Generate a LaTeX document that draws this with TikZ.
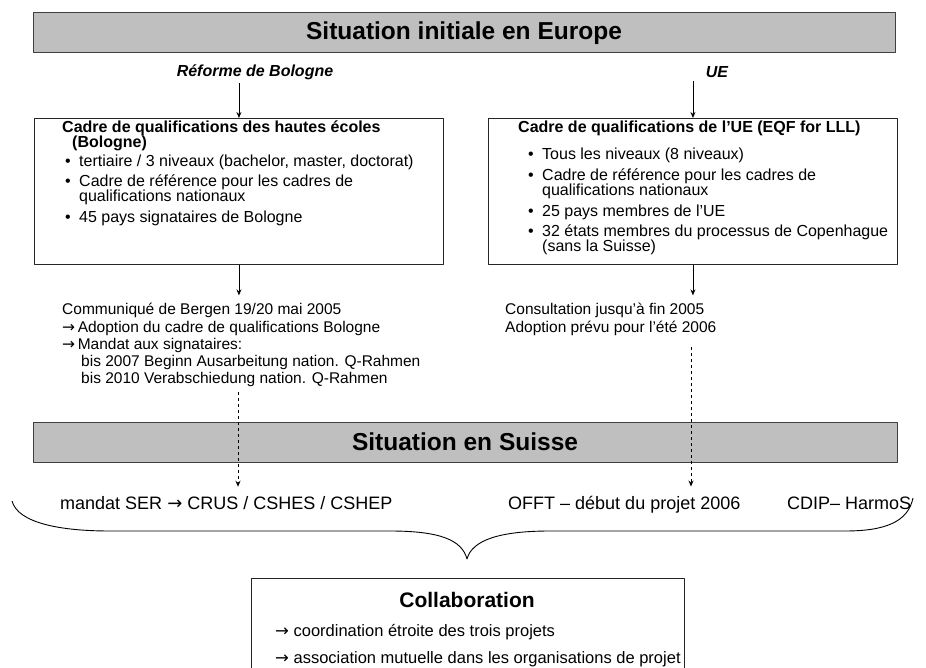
\documentclass[tikz,border=0pt]{standalone}
\usepackage{fontspec}
\setmainfont{Liberation Sans}
\newfontfamily\symfont{DejaVu Sans}
\newcommand{\rarr}{{\symfont →}}
\usetikzlibrary{arrows.meta}
\tikzset{
  banner/.style={draw=black!75, line width=1pt, fill=black!25, minimum height=40pt, font=\fontsize{24.5}{28}\selectfont\bfseries},
  frame/.style={draw=black!85, line width=0.9pt, minimum width=409pt, minimum height=146pt, anchor=north west},
  head/.style={font=\fontsize{16}{19}\selectfont\bfseries\itshape},
  txt/.style={anchor=base west, inner sep=0pt, font=\fontsize{16}{19}\selectfont},
  note/.style={anchor=base west, inner sep=0pt, font=\fontsize{15.5}{18}\selectfont},
  big/.style={anchor=base west, inner sep=0pt, font=\fontsize{18}{21}\selectfont},
  link/.style={->, line width=0.9pt}
}
\begin{document}
\begin{tikzpicture}[x=1pt,y=-1pt,>={Stealth[length=6pt,width=5pt]},line join=round]
\useasboundingbox (0,0) rectangle (926,668);
% Europe
\node[banner, minimum width=862pt] (europe) at (464,33) {Situation initiale en Europe};
\node[head] (bologne) at (255,72) {Réforme de Bologne};
\node[head] (ue) at (717,72) {UE};
\node[frame] (bolbox) at (34,118) {};
\node[frame] (uebox) at (488,118) {};
\draw[link] (bolbox.north |- bologne.south) -- (bolbox.north);
\draw[link] (uebox.north |- ue.south) -- (uebox.north);

% box Bologne
\node[txt] (b0) at (62,133) {\bfseries Cadre de qualifications des hautes écoles};
\node[txt] (b1) at (72,148) {\bfseries (Bologne)};
\node[txt] at (65,167) {•};
\node[txt] (b2) at (79,167) {tertiaire / 3 niveaux (bachelor, master, doctorat)};
\node[txt] at (65,187) {•};
\node[txt] (b3) at (79,187) {Cadre de référence pour les cadres de};
\node[txt] (b4) at (79,202) {qualifications nationaux};
\node[txt] at (65,223) {•};
\node[txt] (b5) at (79,223) {45 pays signataires de Bologne};

% box UE
\node[txt] (u0) at (518,133) {\bfseries Cadre de qualifications de l’UE (EQF for LLL)};
\node[txt] at (528,160) {•};
\node[txt] (u1) at (542,160) {Tous les niveaux (8 niveaux)};
\node[txt] at (528,181) {•};
\node[txt] (u2) at (542,181) {Cadre de référence pour les cadres de};
\node[txt] (u3) at (542,196) {qualifications nationaux};
\node[txt] at (528,217) {•};
\node[txt] (u4) at (542,217) {25 pays membres de l’UE};
\node[txt] at (528,237) {•};
\node[txt] (u5) at (542,237) {32 états membres du processus de Copenhague};
\node[txt] (u6) at (542,252) {(sans la Suisse)};

% decisions
\node[note] (c1) at (62,315) {Communiqué de Bergen 19/20 mai 2005};
\node[note] (c2) at (62,332) {\rarr\,Adoption du cadre de qualifications Bologne};
\node[note] (c3) at (62,349) {\rarr\,Mandat aux signataires:};
\node[note] (c4) at (81,366) {bis 2007 Beginn Ausarbeitung nation. Q-Rahmen};
\node[note] (c5) at (81,383) {bis 2010 Verabschiedung nation. Q-Rahmen};
\node[note] (k1) at (505,315) {Consultation jusqu’à fin 2005};
\node[note] (k2) at (505,332) {Adoption prévu pour l’été 2006};
\draw[link, shorten >=8pt] (bolbox.south) -- (bolbox.south |- c1.north);
\draw[link, shorten >=8pt] (uebox.south) -- (uebox.south |- k1.north);

% Suisse
\node[banner, minimum width=864pt] (suisse) at (465,442) {Situation en Suisse};
\node[big] (m1) at (60,509) {mandat SER {\symfont →} CRUS / CSHES / CSHEP};
\node[big] (m2) at (508,509) {OFFT – début du projet 2006};
\node[big] (m3) at (787,509) {CDIP– HarmoS};
\coordinate (d1) at (238,392);
\coordinate (d2) at (691,347);
\draw[link, dashed, shorten >=9pt] (d1) -- (d1 |- m1.north);
\draw[link, dashed, shorten >=9pt] (d2) -- (d2 |- m2.north);

% brace
\coordinate (tip) at (467,559);
\draw[line width=0.9pt] (12,501) .. controls (18,523) and (60,531) .. (110,531) -- (390,531)
  .. controls (440,531) and (462,540) .. (tip) .. controls (472,540) and (500,531) .. (550,531)
  -- (845,531) .. controls (885,531) and (908,522) .. (913,498);

% Collaboration
\node[draw=black!85, line width=0.9pt, minimum width=433pt, minimum height=110pt, anchor=north] (collab) at (467.5,578) {};
\node[font=\fontsize{21}{25}\selectfont\bfseries] (ct) at (467,600) {Collaboration};
\node[txt, font=\fontsize{16.5}{19}\selectfont] (cl1) at (275,636) {\rarr\ coordination étroite des trois projets};
\node[txt, font=\fontsize{16.5}{19}\selectfont] (cl2) at (275,663) {\rarr\ association mutuelle dans les organisations de projet};
\end{tikzpicture}
\end{document}
